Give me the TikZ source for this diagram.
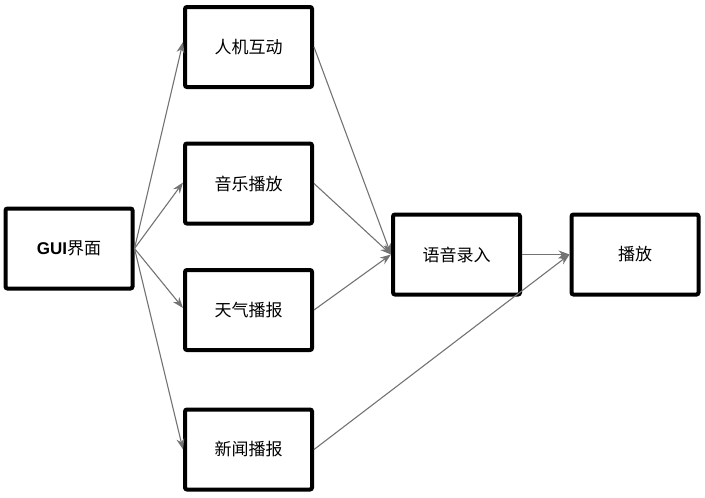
\documentclass[tikz,border=0pt]{standalone}
\usepackage{fontspec}
\newfontfamily\cjk{Noto Sans CJK SC}
\setsansfont{Liberation Sans}
\usetikzlibrary{arrows.meta}
\begin{document}
\begin{tikzpicture}[x=1pt,y=-1pt,
  box/.style={draw=black,line width=4pt,rounded corners=2pt,fill=white,minimum width=127pt,minimum height=80pt,inner sep=0pt,font=\cjk\fontsize{17}{19}\selectfont},
  conn/.style={draw=gray!90!black,line width=1.1pt,-{Stealth[length=11pt,width=8pt]}}]
\useasboundingbox (0,0) rectangle (705,498);
\node[box] (gui) at (69,248.5) {\textbf{\sffamily GUI}界面};
\node[box] (hci) at (248.5,47) {人机互动};
\node[box] (music) at (248.5,183.5) {音乐播放};
\node[box] (weather) at (248.5,310) {天气播报};
\node[box] (news) at (248.5,449.5) {新闻播报};
\node[box] (voice) at (456.5,254.5) {语音录入};
\node[box] (play) at (635,254.5) {播放};
\draw[conn] (gui.east) -- ([yshift=5pt]hci.west);
\draw[conn] (gui.east) -- ([yshift=1pt]music.west);
\draw[conn] (gui.east) -- ([yshift=2pt]weather.west);
\draw[conn] (gui.east) -- (news.west);
\draw[conn] (hci.east) -- (voice.west);
\draw[conn] (music.east) -- (voice.west);
\draw[conn] (weather.east) -- (voice.west);
\draw[conn] (voice.east) -- (play.west);
\draw[conn] (news.east) -- (play.west);
\end{tikzpicture}
\end{document}
